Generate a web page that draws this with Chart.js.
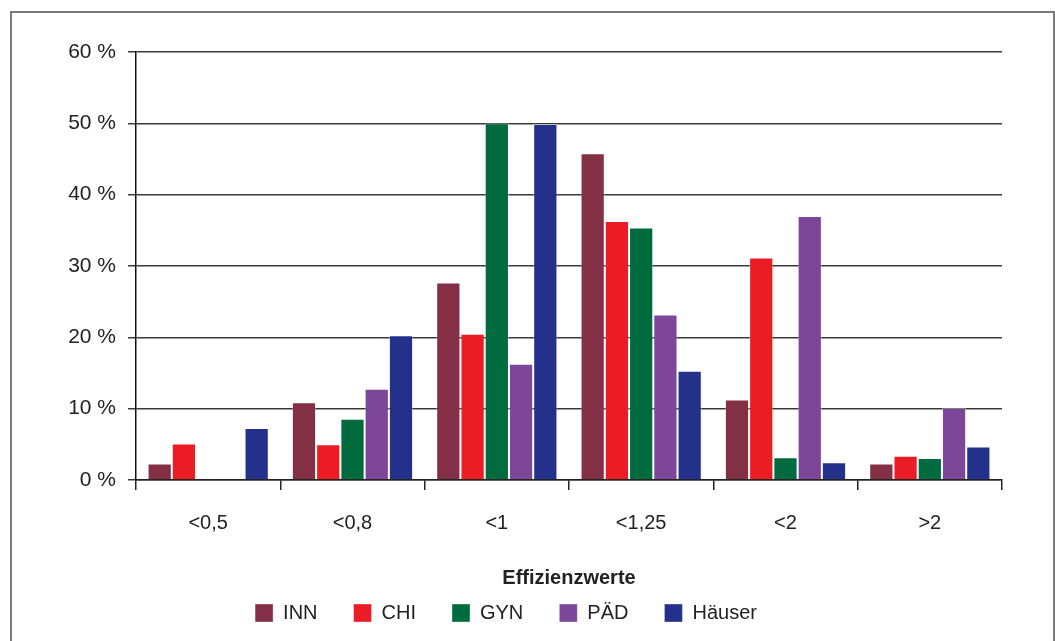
<!DOCTYPE html>
<html>
<head>
<meta charset="utf-8">
<script src="https://cdn.jsdelivr.net/npm/chart.js@4"></script>
<style>
  body { margin: 0; background: #fff; }
  #wrap { position: relative; width: 1055px; height: 641px; overflow: hidden; }
  #frame { position: absolute; left: 10px; top: 11px; width: 1041px; height: 660px; border: 2px solid #7a7a7a; }
  canvas { position: absolute; left: 0; top: 0; }
</style>
</head>
<body>
<div id="wrap">
  <div id="frame"></div>
  <canvas id="chart" width="1055" height="641"></canvas>
</div>
<script>
const categories = ['<0,5', '<0,8', '<1', '<1,25', '<2', '>2'];
const seriesNames = ['INN', 'CHI', 'GYN', 'PÄD', 'Häuser'];
const inn    = [2.3, 10.9, 27.7, 45.8, 11.3, 2.3];
const chi    = [5.1, 5.0, 20.5, 36.3, 31.2, 3.4];
const gyn    = [0, 8.6, 50.0, 35.4, 3.2, 3.1];
const paed   = [0, 12.8, 16.3, 23.2, 37.0, 10.1];
const haeuser = [7.3, 20.3, 49.9, 15.3, 2.5, 4.7];
const colors = ['#832f45', '#ec1c24', '#006b3f', '#7d4698', '#24318a'];

const seriesValues = [inn, chi, gyn, paed, haeuser];
const font = "'Liberation Sans', Arial, Helvetica, sans-serif";

new Chart(document.getElementById('chart'), {
  type: 'bar',
  data: {
    labels: categories,
    datasets: seriesNames.map((name, i) => ({
      label: name,
      data: seriesValues[i],
      backgroundColor: colors[i],
      borderColor: 'rgba(255,255,255,0.35)',
      borderWidth: 1,
      categoryPercentage: 0.84,
      barPercentage: 1
    }))
  },
  options: {
    responsive: false,
    animation: false,
    devicePixelRatio: 1,
    layout: { padding: { left: 10, right: 53, top: 52, bottom: 8 } },
    plugins: {
      tooltip: { enabled: false },
      legend: {
        position: 'bottom',
        labels: {
          font: { family: font, size: 20 },
          color: '#222',
          boxWidth: 18,
          boxHeight: 18,
          padding: 36
        }
      }
    },
    scales: {
      x: {
        grid: { offset: true, drawOnChartArea: false, drawTicks: true, tickLength: 10, color: '#222', lineWidth: 1.5 },
        border: { color: '#222', width: 1.5 },
        ticks: { font: { family: font, size: 20 }, color: '#222', padding: 21 },
        title: { display: true, text: 'Effizienzwerte', font: { family: font, size: 20, weight: 'bold' }, color: '#222', padding: { top: 10, bottom: -23 } }
      },
      y: {
        min: 0,
        max: 60,
        afterFit: s => { s.width = 126; },
        ticks: { stepSize: 10, font: { family: font, size: 21 }, color: '#222', padding: 12, callback: v => v + ' %' },
        grid: { color: '#3a3a3a', lineWidth: 1.5, tickLength: 8 },
        border: { color: '#111', width: 1.5 }
      }
    }
  }
});
</script>
</body>
</html>
